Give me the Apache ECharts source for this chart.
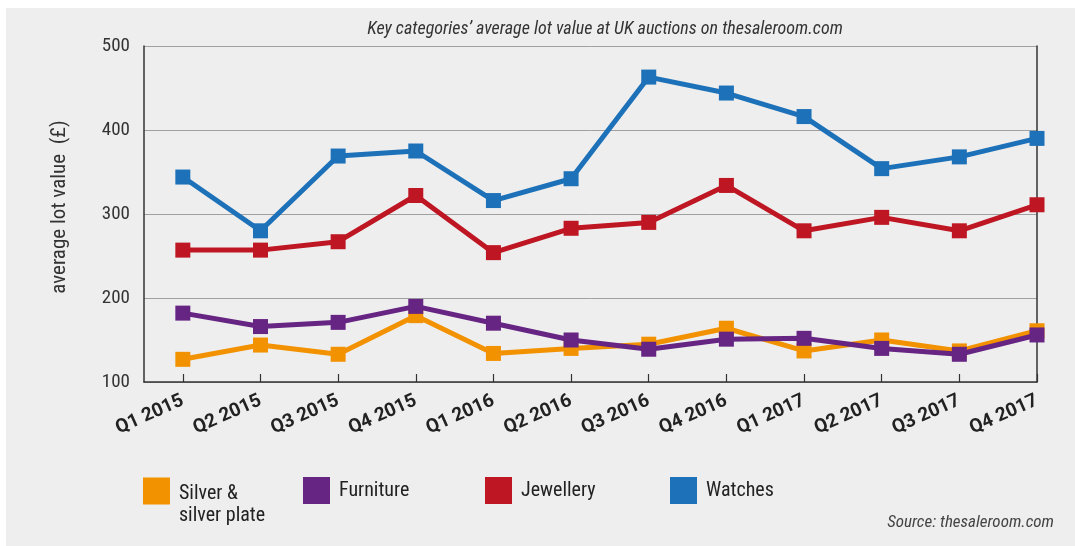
<!DOCTYPE html>
<html>
<head>
<meta charset="utf-8">
<script src="https://cdn.jsdelivr.net/npm/echarts@6/dist/echarts.min.js"></script>
<style>
html,body{margin:0;padding:0;background:#ffffff;}
#panel{position:absolute;left:6px;top:8px;width:1069px;height:538px;background:#eeeeee;}
#chart{position:absolute;left:0;top:0;width:1075px;height:546px;}
</style>
</head>
<body>
<div id="panel"></div>
<div id="chart"></div>
<script>
const categories = ['Q1 2015','Q2 2015','Q3 2015','Q4 2015','Q1 2016','Q2 2016','Q3 2016','Q4 2016','Q1 2017','Q2 2017','Q3 2017','Q4 2017'];
const silver    = [127, 144, 133, 179, 134, 140, 145, 164, 137, 150, 137, 161];
const furniture = [182, 166, 171, 190, 170, 150, 139, 151, 152, 140, 133, 156];
const jewellery = [257, 257, 267, 322, 254, 283, 290, 334, 280, 296, 280, 311];
const watches   = [344, 280, 369, 375, 316, 342, 463, 444, 416, 354, 368, 390];
const yTicks = [100, 200, 300, 400, 500];
const titleText = 'Key categories’ average lot value at UK auctions on thesaleroom.com';
const sourceText = 'Source: thesaleroom.com';
const yName = 'average lot value  (£)';
const names = ['Silver &\nsilver plate', 'Furniture', 'Jewellery', 'Watches'];
const colors = ['#F39200', '#662483', '#BE1622', '#1D71B8'];
const seriesValues = [silver, furniture, jewellery, watches];

const FONT = "'Roboto Condensed', Roboto, sans-serif";
const idx = categories.map((c, i) => i);

const chart = echarts.init(document.getElementById('chart'), null, {renderer: 'canvas'});

const legendLefts = [143, 303, 485, 670];
const legends = names.map((n, i) => {
  const multi = n.indexOf('\n') >= 0;
  return {
    data: [n],
    left: legendLefts[i],
    top: multi ? 455 : 477,
    padding: 0,
    orient: 'horizontal',
    icon: 'rect',
    itemWidth: 27,
    itemHeight: 27,
    selectedMode: false,
    formatter: multi
      ? (name => '{s| }\n' + name.split('\n').map(l => '{a|' + l + '}').join('\n'))
      : (name => name),
    textStyle: {
      fontFamily: FONT, fontSize: 20, color: '#222',
      lineHeight: 22,
      padding: [0, 0, 0, 4],
      rich: {
        s: {fontSize: 10, lineHeight: 28},
        a: {fontFamily: FONT, fontSize: 20, lineHeight: 22, color: '#222'}
      }
    }
  };
});

const option = {
  backgroundColor: 'transparent',
  animation: false,
  title: [
    {text: titleText, left: 600, textAlign: 'center', top: 15,
     textStyle: {fontFamily: FONT, fontStyle: 'italic', fontWeight: 'normal', fontSize: 18, color: '#333'}},
    {text: sourceText, right: 16, top: 509,
     textStyle: {fontFamily: FONT, fontStyle: 'italic', fontWeight: 'normal', fontSize: 17, color: '#444'}}
  ],
  legend: legends,
  grid: {left: 144, right: 38, top: 46, bottom: 164, containLabel: false},
  xAxis: {
    type: 'value', min: -0.5, max: categories.length - 1,
    axisLine: {show: true, onZero: false, lineStyle: {color: '#333', width: 1.5}},
    axisTick: {show: true, inside: true, length: 8, customValues: idx, lineStyle: {color: '#333', width: 1.2}},
    axisLabel: {
      show: true, customValues: idx, rotate: 24, margin: 18,
      formatter: v => categories[Math.round(v)] || '',
      fontFamily: 'Roboto, sans-serif', fontWeight: 'bold', fontSize: 19, color: '#222'
    },
    splitLine: {show: false}
  },
  yAxis: [{
    type: 'value', min: 100, max: 500, interval: 100,
    name: yName, nameLocation: 'middle', nameGap: 74,
    nameTextStyle: {fontFamily: FONT, fontSize: 21, color: '#333', padding: [0, 0, 0, 14]},
    axisLine: {show: true, onZero: false, lineStyle: {color: '#333', width: 1.5}},
    axisTick: {show: false},
    axisLabel: {fontFamily: FONT, fontSize: 19, color: '#333', margin: 14, padding: [7, 0, 0, 0],
      formatter: v => yTicks.includes(v) ? String(v) : ''},
    splitLine: {show: true, lineStyle: {color: '#a0a0a0', width: 1}}
  }, {
    type: 'value', min: 100, max: 500, interval: 100, position: 'right',
    axisLine: {show: true, onZero: false, lineStyle: {color: '#333', width: 1.5}},
    axisTick: {show: false}, axisLabel: {show: false}, splitLine: {show: false}
  }],
  series: names.map((n, i) => ({
    name: n, type: 'line', yAxisIndex: 0,
    data: seriesValues[i].map((v, j) => [idx[j], v]),
    symbol: 'rect', symbolSize: 15, showSymbol: true,
    itemStyle: {color: colors[i]},
    lineStyle: {color: colors[i], width: 5},
    z: 2 + i
  }))
};
chart.setOption(option);
</script>
</body>
</html>
